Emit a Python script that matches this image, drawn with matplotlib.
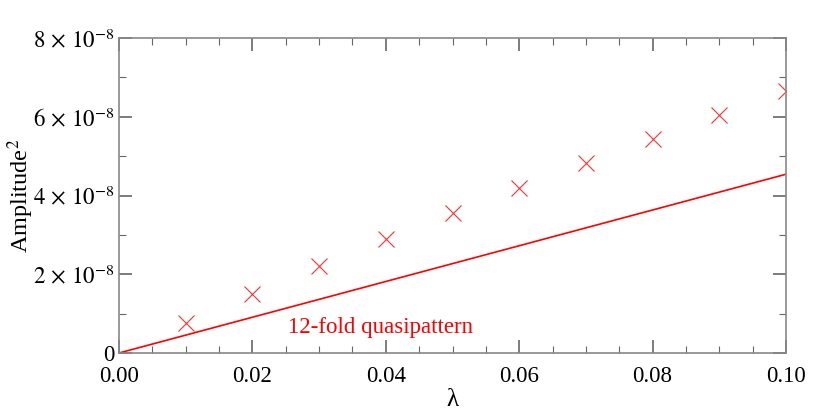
import matplotlib
matplotlib.use("Agg")
import matplotlib.pyplot as plt
from matplotlib.ticker import MultipleLocator, FixedLocator
import numpy as np

plt.rcParams['font.family'] = ['Liberation Serif', 'DejaVu Serif']
plt.rcParams['mathtext.fontset'] = 'stix'

lam_pts = [0.01, 0.02, 0.03, 0.04, 0.05, 0.06, 0.07, 0.08, 0.09, 0.10]
amp_pts = [0.76e-8, 1.50e-8, 2.21e-8, 2.89e-8, 3.55e-8, 4.19e-8, 4.82e-8, 5.43e-8, 6.04e-8, 6.65e-8]
lam_line = [0.0, 0.10]
amp_line = [0.0, 4.54e-8]
xticks = [0.00, 0.02, 0.04, 0.06, 0.08, 0.10]
xticklabels = ['0.00', '0.02', '0.04', '0.06', '0.08', '0.10']
yticks = [0, 2e-8, 4e-8, 6e-8, 8e-8]
yticklabels = ['0', r'$2\,\times\,10^{-8}$', r'$4\,\times\,10^{-8}$', r'$6\,\times\,10^{-8}$', r'$8\,\times\,10^{-8}$']
label_text = '12-fold quasipattern'

fig = plt.figure(figsize=(8.22, 4.11), dpi=100)
ax = fig.add_axes([119/822, 1-353/411, (786-119)/822, (353-38)/411])

ax.plot(lam_line, amp_line, color='red', lw=1.2)
ax.plot(lam_pts, amp_pts, linestyle='none', marker='x', color='#ff3030', ms=11, mew=0.8)
ax.text(0.0253, 0.66e-8, label_text, color='red', fontsize=16.5, va='center', ha='left')

ax.set_xlim(0, 0.10)
ax.set_ylim(0, 8e-8)
ax.xaxis.set_major_locator(FixedLocator(xticks))
ax.set_xticklabels(xticklabels)
ax.yaxis.set_major_locator(FixedLocator(yticks))
ax.set_yticklabels(yticklabels)
ax.xaxis.set_minor_locator(MultipleLocator(0.005))
ax.yaxis.set_minor_locator(MultipleLocator(1e-8))

for s in ax.spines.values():
    s.set_color('#888888')
    s.set_linewidth(1.2)
ax.tick_params(which='both', direction='in', top=True, right=True, color='#666666')
ax.tick_params(which='major', length=9.5, width=1.2)
ax.tick_params(which='minor', length=5, width=0.8)
ax.tick_params(axis='x', which='major', labelsize=16.5, pad=9)
ax.tick_params(axis='y', which='major', labelsize=16.5, pad=3)

ax.set_xlabel('λ', fontsize=18)
ax.set_ylabel('Amplitude$^2$', fontsize=17.5)
ax.xaxis.set_label_coords(0.5, -0.115)
ax.yaxis.set_label_coords(-0.125, 0.5)

fig.savefig('out.png', dpi=100)
